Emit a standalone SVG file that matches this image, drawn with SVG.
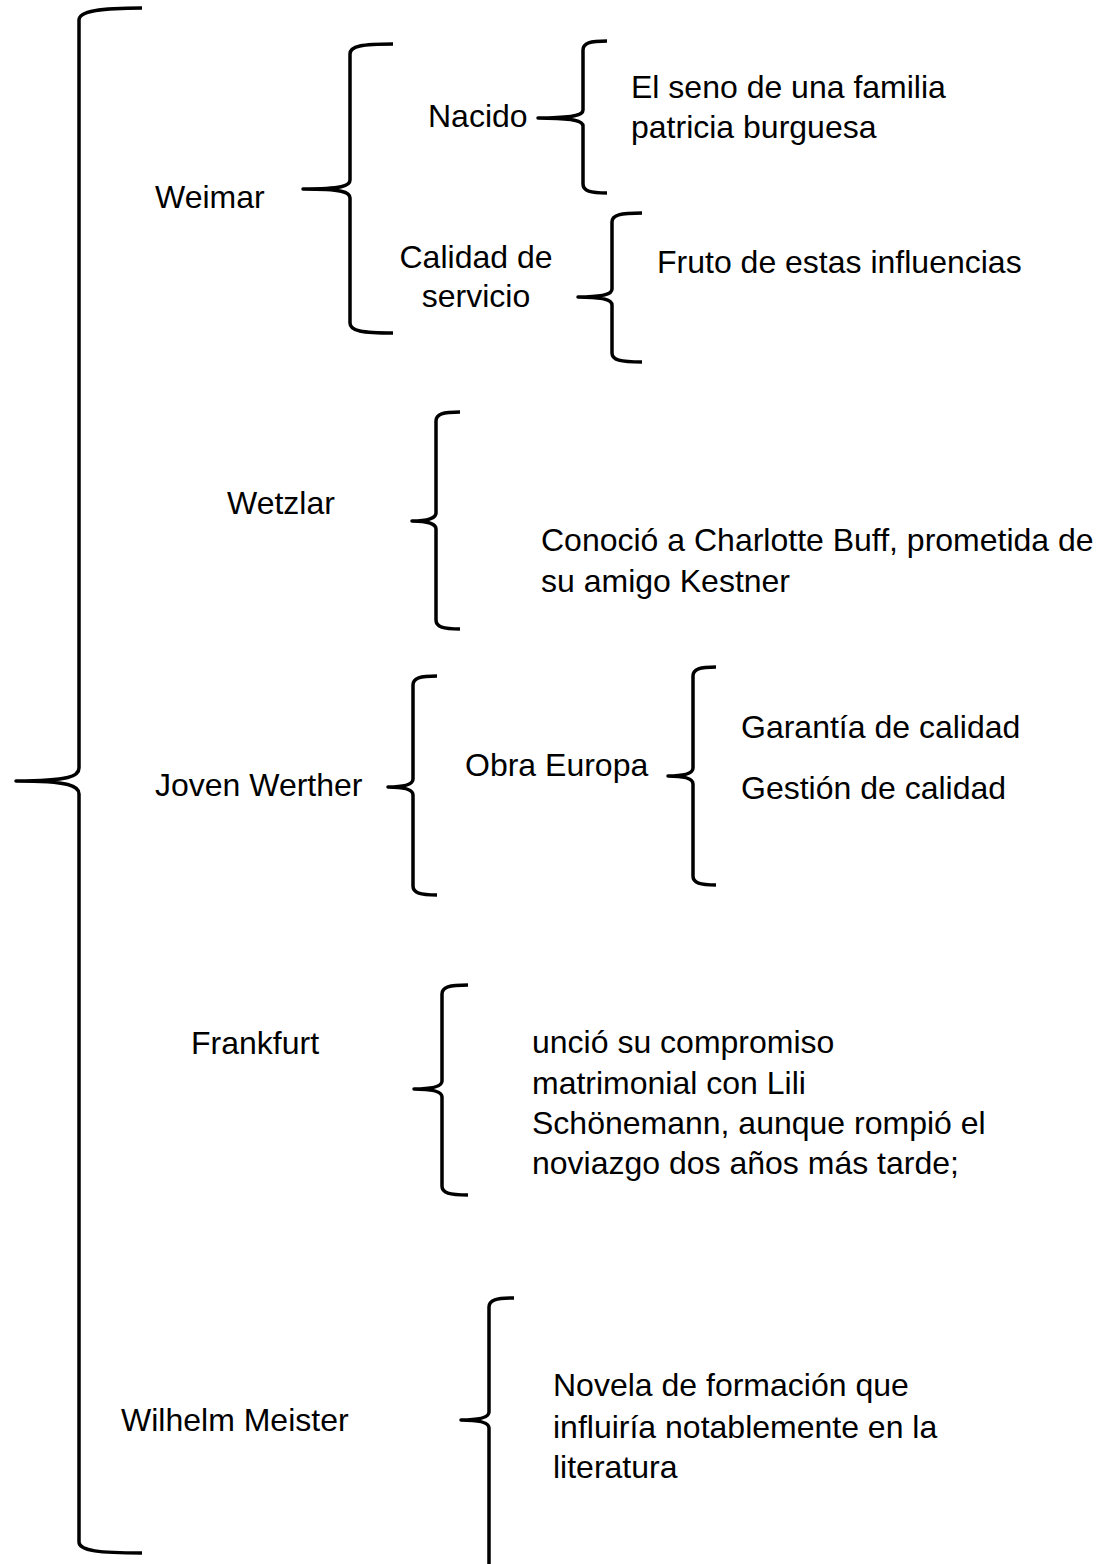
<svg xmlns="http://www.w3.org/2000/svg" width="1108" height="1564" viewBox="0 0 1108 1564">
<style>
.t{font-family:"Liberation Sans",Arial,sans-serif;font-size:32px;fill:#000}
.b{fill:none;stroke:#000;stroke-width:3.5;stroke-linecap:butt;stroke-linejoin:round}
</style>
<rect width="1108" height="1564" fill="#fff"/>
<g id="connectors">
<path class="b" d="M142 8 C100 8,79 11,79 20 L79 768 C79 776,70 781,16 781 C70 781,79 786,79 794 L79 1542 C79 1551,100 1553,142 1553"/>
<path class="b" d="M393 44 C362 44,350 46,350 54 L350 180 C350 186,342 189,303 189 C342 189,350 192,350 198 L350 323 C350 331,362 333,393 333"/>
<path class="b" d="M607 41 C590 41,583 43,583 50 L583 110 C583 115,575 118,538 118 C575 118,583 121,583 126 L583 184 C583 191,590 193,607 193"/>
<path class="b" d="M642 213 C620 213,612 215,612 222 L612 289 C612 294,604 297,578 297 C604 297,612 300,612 305 L612 353 C612 360,620 362,642 362"/>
<path class="b" d="M460 412 C443 412,436 414,436 421 L436 513 C436 518,428 521,412 521 C428 521,436 524,436 529 L436 620 C436 627,443 629,460 629"/>
<path class="b" d="M437 676 C420 676,413 678,413 685 L413 779 C413 784,405 787,388 787 C405 787,413 790,413 795 L413 886 C413 893,420 895,437 895"/>
<path class="b" d="M716 667 C700 667,693 669,693 676 L693 768 C693 773,685 776,668 776 C685 776,693 779,693 784 L693 876 C693 883,700 885,716 885"/>
<path class="b" d="M468 985 C449 985,442 987,442 994 L442 1081 C442 1086,434 1089,414 1089 C434 1089,442 1092,442 1097 L442 1186 C442 1193,449 1195,468 1195"/>
<path class="b" d="M514 1298 C496 1298,489 1300,489 1307 L489 1412 C489 1417,481 1420,461 1420 C481 1420,489 1423,489 1428 L489 1564"/>
</g>
<g id="weimar"><text class="t" x="155" y="208">Weimar</text></g>
<g id="nacido"><text class="t" x="428" y="127">Nacido</text></g>
<g id="seno"><text class="t" x="631" y="98">El seno de una familia</text><text class="t" x="631" y="138">patricia burguesa</text></g>
<g id="calidad"><text class="t" x="476" y="268" text-anchor="middle">Calidad de</text><text class="t" x="476" y="307" text-anchor="middle">servicio</text></g>
<g id="fruto"><text class="t" x="657" y="273">Fruto de estas influencias</text></g>
<g id="wetzlar"><text class="t" x="227" y="514">Wetzlar</text></g>
<g id="conocio"><text class="t" x="541" y="551">Conoció a Charlotte Buff, prometida de</text><text class="t" x="541" y="592">su amigo Kestner</text></g>
<g id="joven"><text class="t" x="155" y="796">Joven Werther</text></g>
<g id="obra"><text class="t" x="465" y="776">Obra Europa</text></g>
<g id="garantia"><text class="t" x="741" y="738">Garantía de calidad</text></g>
<g id="gestion"><text class="t" x="741" y="799">Gestión de calidad</text></g>
<g id="frankfurt"><text class="t" x="191" y="1054">Frankfurt</text></g>
<g id="uncio"><text class="t" x="532" y="1053">unció su compromiso</text><text class="t" x="532" y="1094">matrimonial con Lili</text><text class="t" x="532" y="1134">Schönemann, aunque rompió el</text><text class="t" x="532" y="1174">noviazgo dos años más tarde;</text></g>
<g id="wilhelm"><text class="t" x="121" y="1431">Wilhelm Meister</text></g>
<g id="novela"><text class="t" x="553" y="1396">Novela de formación que</text><text class="t" x="553" y="1438">influiría notablemente en la</text><text class="t" x="553" y="1478">literatura</text></g>
</svg>
